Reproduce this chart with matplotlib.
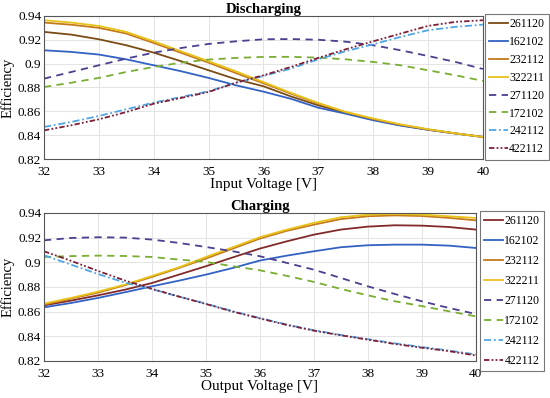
import matplotlib
matplotlib.use('Agg')
import matplotlib.pyplot as plt

plt.rcParams['font.family'] = ['Liberation Serif', 'DejaVu Serif']

x = [32, 32.5, 33, 33.5, 34, 34.5, 35, 35.5, 36, 36.5, 37, 37.5, 38, 38.5, 39, 39.5, 40]
labels = ['261120', '162102', '232112', '322211', '271120', '172102', '242112', '422112']

# discharging (efficiency vs input voltage)
dis = {
    '261120': [.9266, .9243, .9204, .9154, .9092, .902, .8944, .8869, .881, .8725, .865, .8585, .853, .8483, .8446, .8414, .8385],
    '162102': [.9112, .9098, .9076, .9036, .8986, .8936, .888, .8818, .8765, .8705, .863, .858, .8525, .848, .8445, .8414, .8385],
    '232112': [.9344, .9326, .930, .9252, .9173, .909, .9008, .892, .8835, .8748, .8665, .8592, .8535, .8487, .8448, .8415, .8385],
    '322211': [.9364, .9344, .9316, .9266, .9187, .9103, .902, .8935, .8845, .8755, .867, .8595, .854, .849, .845, .8415, .8385],
    '271120': [.8874, .893, .8986, .9042, .9092, .9131, .9165, .9187, .9204, .9206, .920, .9184, .9154, .9112, .9064, .9014, .8955],
    '172102': [.8804, .884, .888, .893, .8972, .9008, .9034, .9048, .9056, .9057, .905, .9036, .9014, .8986, .8944, .8902, .8855],
    '242112': [.8469, .8511, .8561, .8617, .8673, .872, .8768, .884, .8896, .8958, .9036, .9104, .9162, .9224, .928, .9308, .9327],
    '422112': [.844, .8483, .8533, .8594, .8664, .8712, .8762, .884, .8902, .8972, .9048, .912, .9187, .9252, .9316, .935, .9364],
}

# charging (efficiency vs output voltage)
chg = {
    '261120': [.8651, .8689, .8732, .8778, .8832, .890, .8968, .904, .9111, .917, .9224, .9265, .9289, .930, .9297, .9286, .9265],
    '162102': [.8635, .867, .8711, .8757, .8805, .8851, .890, .8954, .9014, .9054, .9089, .9122, .9138, .9143, .9143, .9135, .9116],
    '232112': [.8657, .8705, .8754, .8814, .8881, .8954, .903, .9111, .9192, .9255, .9305, .935, .9373, .938, .9375, .936, .934],
    '322211': [.8665, .8711, .8762, .8819, .8889, .8959, .9043, .9122, .9203, .9265, .9319, .9365, .9386, .9392, .9386, .9373, .9359],
    '271120': [.9178, .9197, .9203, .920, .9184, .9157, .9124, .9089, .9049, .8995, .894, .8873, .8805, .8743, .8684, .863, .8581],
    '172102': [.9043, .905, .9054, .9051, .9043, .9022, .9003, .8968, .8935, .889, .8841, .8784, .8732, .8684, .8645, .8603, .8562],
    '242112': [.9057, .8981, .8905, .8835, .8782, .8722, .8665, .8603, .8548, .8495, .8449, .8411, .8377, .8343, .8313, .8285, .8253],
    '422112': [.9089, .9012, .893, .8852, .8785, .8722, .8662, .860, .8545, .8492, .8446, .8408, .8373, .8338, .8308, .828, .8245],
}

colors = ['#7a4c14', '#3262c4', '#c47a1c', '#e8c21a', '#4b3f8f', '#7aad32', '#4fa6e3', '#7e1f36']
colors_c = ['#822a2a'] + colors[1:]
styles = ['-', '-', '-', '-', (0, (4, 3)), (0, (4, 3)), (0, (4, 1.5, 1, 1.5)), (0, (3, 1.2, 1, 1.2, 1, 1.2))]

fig = plt.figure(figsize=(5.5, 3.98), dpi=100)
ax1 = fig.add_axes([0.08, 0.6005, 0.798, 0.3595])
ax2 = fig.add_axes([0.08, 0.093, 0.785, 0.372])


def draw(ax, data, cols, title, xlabel, leg_pos, spacing):
    for lab, c, ls in zip(labels, cols, styles):
        ax.plot(x, data[lab], color=c, linestyle=ls, linewidth=1.3, label=lab)
    ax.set_xlim(32, 40)
    ax.set_ylim(0.82, 0.94)
    ax.set_xticks(range(32, 41))
    ax.set_yticks([0.82, 0.84, 0.86, 0.88, 0.9, 0.92, 0.94])
    ax.set_yticklabels(['0.82', '0.84', '0.86', '0.88', '0.9', '0.92', '0.94'])
    ax.grid(True, color='#e4e4e4', linewidth=0.7)
    ax.tick_params(labelsize=9.5, length=0)
    ax.tick_params(axis='x', pad=5)
    ax.tick_params(axis='y', pad=2)
    for s in ax.spines.values():
        s.set_color('#555555')
        s.set_linewidth(0.8)
    ax.set_title(title, fontsize=10.5, fontweight='bold', pad=2)
    ax.set_xlabel(xlabel, fontsize=11, labelpad=0)
    ax.set_ylabel('Efficiency', fontsize=10.5)
    ax.yaxis.set_label_coords(-0.068, 0.5)
    leg = fig.legend(*ax.get_legend_handles_labels(), loc='upper left', bbox_to_anchor=leg_pos,
                     fontsize=8.5, frameon=True, fancybox=False, handlelength=1.6,
                     handletextpad=0.1, borderpad=0.35, labelspacing=spacing, borderaxespad=0)
    leg.get_frame().set_edgecolor('#555555')
    leg.get_frame().set_linewidth(0.8)


draw(ax1, dis, colors, 'Discharging', 'Input Voltage [V]', (0.882, 0.965), 0.5)
draw(ax2, chg, colors_c, 'Charging', 'Output Voltage [V]', (0.873, 0.47), 0.68)

fig.savefig('out.png', dpi=100)
